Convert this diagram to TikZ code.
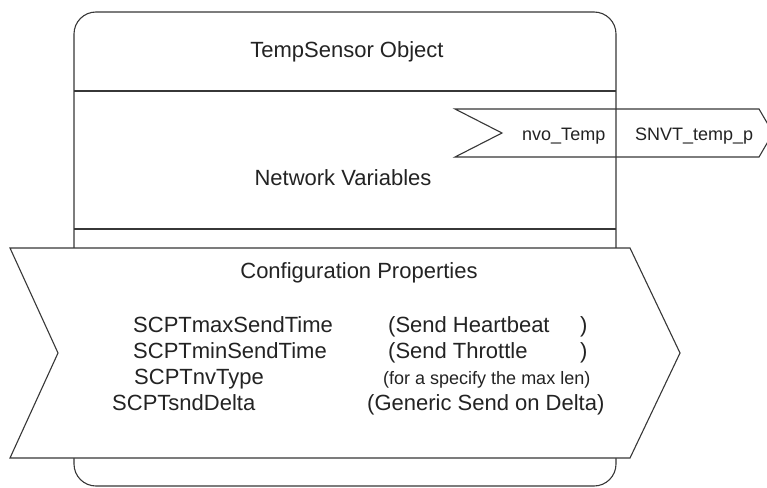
\documentclass[tikz,border=0pt]{standalone}
\usepackage{fontspec}
\setmainfont{Liberation Sans}
\definecolor{linegray}{RGB}{55,55,55}
\definecolor{textgray}{RGB}{35,35,35}
\begin{document}
\begin{tikzpicture}[x=1pt,y=-1pt,
  shapeline/.style={draw=linegray, line width=1.1pt, line join=miter},
  txt/.style={inner sep=0pt, text=textgray, font=\fontsize{22}{24}\selectfont},
  smalltxt/.style={inner sep=0pt, text=textgray, font=\fontsize{18}{20}\selectfont}]
\useasboundingbox (0,0) rectangle (767,487);
\clip (0,0) rectangle (767,487);
% object frame
\coordinate (frameTL) at (74,12);
\coordinate (frameBR) at (616,486);
\draw[shapeline, rounded corners=22pt, fill=white] (frameTL) rectangle (frameBR);
\coordinate (d1l) at (74,91);
\coordinate (d1r) at (616,91);
\coordinate (d2l) at (74,229);
\coordinate (d2r) at (616,229);
\draw[shapeline] (d1l) -- (d1r);
\draw[shapeline] (d2l) -- (d2r);
% configuration properties chevron
\draw[shapeline, fill=white] (10,248) -- (630,248) -- (680,353) -- (630,458) -- (10,458) -- (58,353) -- cycle;
% network variable chevron
\draw[shapeline] (455,109) -- (759,109) -- (773,133) -- (759,157) -- (455,157) -- (502,133) -- cycle;
% texts
\node[txt, anchor=base] (title) at (347,57) {TempSensor Object};
\node[txt, anchor=base] (nv) at (343,185) {Network Variables};
\node[txt, anchor=base] (cp) at (359,278) {Configuration Properties};
\node[smalltxt, anchor=base west] (nvo) at (522,140) {nvo\_Temp};
\node[smalltxt, anchor=base west] (snvt) at (635,140) {SNVT\_temp\_p};
\node[txt, anchor=base west] (p1) at (133,332) {SCPTmaxSendTime};
\node[txt, anchor=base west] (p2) at (133,358) {SCPTminSendTime};
\node[txt, anchor=base west] (p3) at (134,384) {SCPTnvType};
\node[txt, anchor=base west] (p4) at (112,410) {SCPTsndDelta};
\node[txt, anchor=base west] (c1) at (388,332) {\makebox[192pt][l]{(Send Heartbeat})};
\node[txt, anchor=base west] (c2) at (388,358) {\makebox[192pt][l]{(Send Throttle})};
\node[smalltxt, anchor=base west] (c3) at (383,384) {(for a specify the max len)};
\node[txt, anchor=base west] (c4) at (367,410) {(Generic Send on Delta)};
\end{tikzpicture}
\end{document}
